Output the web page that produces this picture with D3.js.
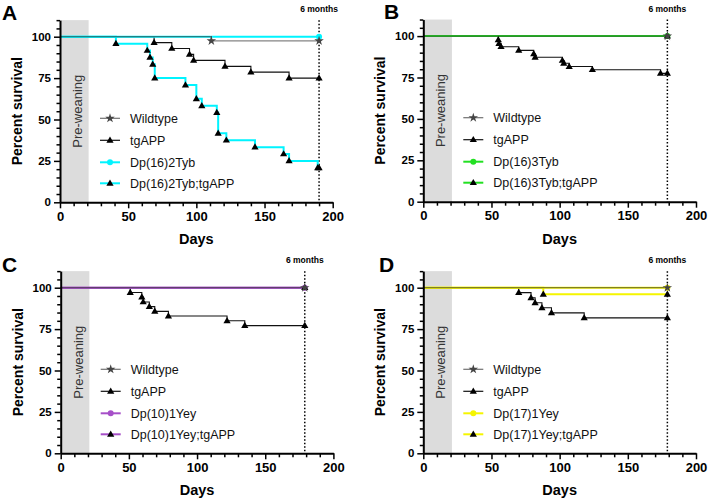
<!DOCTYPE html>
<html><head><meta charset="utf-8">
<script src="https://cdn.jsdelivr.net/npm/d3@7"></script>
<style>
html,body{margin:0;padding:0;background:#fff;}
svg{display:block;font-family:Arial,"Liberation Sans",Helvetica,sans-serif;}
</style></head>
<body>
<svg id="chart" width="708" height="502"></svg>
<script>
// ---------------- DATA ----------------
const panelLetters = ["A", "B", "C", "D"];
const dupNames = ["Dp(16)2Tyb", "Dp(16)3Tyb", "Dp(10)1Yey", "Dp(17)1Yey"];
const endDays = [190, 179, 179, 179];
const xTicks = [0, 50, 100, 150, 200];
const yTicks = [0, 25, 50, 75, 100];
const endLabel = "6 months";
const boxLabel = "Pre-weaning";
const weaningDay = 21;

// events: [day, percent survival after the event]
const wildtypeEvents = [
  [[111, 97.5]],
  [],
  [],
  []
];
const tgAPPEvents = [
  [[69, 96.4], [82, 92.9], [95, 89.3], [98, 85.7], [121, 82.1], [140, 78.6], [168, 75.0]],
  [[55, 97.7], [55.5, 95.5], [57, 93.6], [70, 91.4], [81, 89.3], [82, 87.2], [102, 85.3], [103, 83.6], [107, 81.6], [124, 79.7], [174, 77.5]],
  [[51, 97.1], [59.5, 94.3], [60.5, 91.4], [65, 88.6], [69, 85.7], [79, 82.9], [122, 80.0], [135, 77.1]],
  [[70, 97.0], [79, 93.9], [82, 90.9], [87, 87.9], [94, 84.8], [118, 81.8]]
];
const dupEvents = [
  [],
  [],
  [],
  []
];
const dupTgAPPEvents = [
  [[41, 95.8], [64, 91.7], [66, 87.5], [68, 83.3], [69.5, 75.0], [92, 70.8], [100, 62.5], [104, 58.3], [115, 54.2], [116, 41.7], [122, 37.5], [143, 33.3], [164, 29.2], [168, 25.0], [189, 20.8]],
  [],
  [],
  [[88, 96.0]]
];

// ---------------- STYLE / LAYOUT ----------------
const dupColors = ["#00f4ff", "#22e022", "#a64fc8", "#f5f500"];
const wtColor = "#333333";
const panels = [
  {x0: 60,    y0: 202.3, lx: 2,   ly: 20,  my: 12},
  {x0: 423.3, y0: 201.7, lx: 384, ly: 19,  my: 12},
  {x0: 60.7,  y0: 453.3, lx: 2,   ly: 272, my: 263},
  {x0: 423.3, y0: 453.3, lx: 379, ly: 272, my: 263}
];
const pw = 272.7, unit = 1.656;

const svg = d3.select("#chart");

function stepPts(events, end) {
  const pts = [[0, 100]];
  events.forEach(e => pts.push(e));
  const last = pts[pts.length - 1][1];
  pts.push([end, last]);
  return pts;
}
const triPath = "M0,-3.8L3.6,2.4L-3.6,2.4Z";
const starPath = d3.symbol().type(d3.symbolStar).size(28)();

panels.forEach((p, i) => {
  const x = d3.scaleLinear().domain([0, 200]).range([p.x0, p.x0 + pw]);
  const y = d3.scaleLinear().domain([0, 110]).range([p.y0, p.y0 - 110 * unit]);
  const g = svg.append("g");
  const end = endDays[i];

  // pre-weaning box
  g.append("rect").attr("x", x(0)).attr("y", y(110))
    .attr("width", x(weaningDay) - x(0)).attr("height", y(0) - y(110))
    .attr("fill", "#dcdcdc");
  g.append("text").attr("transform", `translate(${x(12.8)},${y(55)}) rotate(-90)`)
    .attr("text-anchor", "middle").attr("dy", "0.35em")
    .attr("font-size", 13).attr("fill", "#333").text(boxLabel);

  // dotted 6 months line
  g.append("line").attr("x1", x(end)).attr("x2", x(end))
    .attr("y1", y(110)).attr("y2", y(0))
    .attr("stroke", "#000").attr("stroke-width", 1.5).attr("stroke-dasharray", "1.5,2");
  g.append("text").attr("x", x(end)).attr("y", p.my).attr("text-anchor", "middle")
    .attr("font-size", 8.5).attr("font-weight", "bold").text(endLabel);

  const line = d3.line().x(d => x(d[0])).y(d => y(d[1])).curve(d3.curveStepAfter);

  // tgAPP black
  g.append("path").attr("d", line(stepPts(tgAPPEvents[i], end)))
    .attr("fill", "none").attr("stroke", "#111").attr("stroke-width", 1.1);
  // colored
  g.append("path").attr("d", line(stepPts(dupEvents[i], end)))
    .attr("fill", "none").attr("stroke", dupColors[i]).attr("stroke-width", 2);
  g.append("path").attr("d", line(stepPts(dupTgAPPEvents[i], end)))
    .attr("fill", "none").attr("stroke", dupColors[i]).attr("stroke-width", 2);
  // wildtype gray on top
  g.append("path").attr("d", line(stepPts(wildtypeEvents[i], end)))
    .attr("fill", "none").attr("stroke", wtColor).attr("stroke-opacity", 0.6).attr("stroke-width", 1.3);

  // markers
  const dupPts = stepPts(dupEvents[i], end).slice(1);
  g.selectAll(null).data(dupPts).enter().append("circle")
    .attr("cx", d => x(d[0])).attr("cy", d => y(d[1])).attr("r", 3).attr("fill", dupColors[i]);
  const triPts = stepPts(tgAPPEvents[i], end).slice(1).concat(stepPts(dupTgAPPEvents[i], end).slice(1));
  g.selectAll(null).data(triPts).enter().append("path")
    .attr("d", triPath).attr("transform", d => `translate(${x(d[0])},${y(d[1])})`).attr("fill", "#000");
  const wtPts = stepPts(wildtypeEvents[i], end).slice(1);
  g.selectAll(null).data(wtPts).enter().append("path")
    .attr("d", starPath).attr("transform", d => `translate(${x(d[0])},${y(d[1])})`).attr("fill", "#444");

  // axes
  const minorY = d3.range(5, 111, 5).filter(v => v % 25 !== 0 || v > 100);
  g.append("g").attr("transform", `translate(${x(0)},0)`)
    .call(d3.axisLeft(y).tickValues(minorY).tickSize(3.5).tickFormat("").tickSizeOuter(0))
    .call(a => a.select(".domain").remove())
    .call(a => a.selectAll("line").attr("stroke-width", 1.5));
  const ya = g.append("g").attr("transform", `translate(${x(0)},0)`)
    .call(d3.axisLeft(y).tickValues(yTicks).tickSize(6).tickPadding(3).tickSizeOuter(0));
  ya.select(".domain").attr("stroke-width", 2);
  ya.selectAll("line").attr("stroke-width", 1.5);
  ya.selectAll("text").attr("font-size", 11.5).attr("font-weight", "bold").attr("font-family", "Arial, Liberation Sans, sans-serif");

  const minorX = d3.range(10, 200, 10).filter(v => v % 50 !== 0);
  g.append("g").attr("transform", `translate(0,${y(0)})`)
    .call(d3.axisBottom(x).tickValues(minorX).tickSize(4).tickFormat("").tickSizeOuter(0))
    .call(a => a.select(".domain").remove())
    .call(a => a.selectAll("line").attr("stroke-width", 1.5));
  const xa = g.append("g").attr("transform", `translate(0,${y(0)})`)
    .call(d3.axisBottom(x).tickValues(xTicks).tickSize(6).tickPadding(3).tickSizeOuter(0));
  xa.select(".domain").attr("stroke-width", 2);
  xa.selectAll("line").attr("stroke-width", 1.5);
  xa.selectAll("text").attr("font-size", 13).attr("font-weight", "bold").attr("font-family", "Arial, Liberation Sans, sans-serif");

  // axis titles
  g.append("text").attr("x", x(100)).attr("y", y(0) + 42).attr("text-anchor", "middle")
    .attr("font-size", 14.5).attr("font-weight", "bold").text("Days");
  g.append("text").attr("transform", `translate(${x(0) - 38},${y(55)}) rotate(-90)`)
    .attr("text-anchor", "middle").attr("font-size", 14).attr("font-weight", "bold").text("Percent survival");

  // panel letter
  g.append("text").attr("x", p.lx).attr("y", p.ly).attr("font-size", 21).attr("font-weight", "bold").text(panelLetters[i]);

  // legend
  const labels = ["Wildtype", "tgAPP", dupNames[i], dupNames[i] + ";tgAPP"];
  const lColors = [wtColor, "#111", dupColors[i], dupColors[i]];
  const rowOff = [84, 62, 40, 19];
  labels.forEach((lab, k) => {
    const ry = p.y0 - rowOff[k];
    const lx0 = p.x0 + 40;
    g.append("line").attr("x1", lx0).attr("x2", lx0 + 20).attr("y1", ry).attr("y2", ry)
      .attr("stroke", lColors[k]).attr("stroke-width", k >= 2 ? 2 : 1.2)
      .attr("stroke-opacity", k === 0 ? 0.7 : 1);
    const mx = lx0 + 10;
    if (k === 0) g.append("path").attr("d", starPath).attr("transform", `translate(${mx},${ry})`).attr("fill", "#444");
    else if (k === 2) g.append("circle").attr("cx", mx).attr("cy", ry).attr("r", 3).attr("fill", dupColors[i]);
    else g.append("path").attr("d", triPath).attr("transform", `translate(${mx},${ry})`).attr("fill", "#000");
    g.append("text").attr("x", p.x0 + 70).attr("y", ry).attr("dy", "0.36em")
      .attr("font-size", 12.5).attr("fill", "#111").text(lab);
  });
});
</script>
</body></html>
